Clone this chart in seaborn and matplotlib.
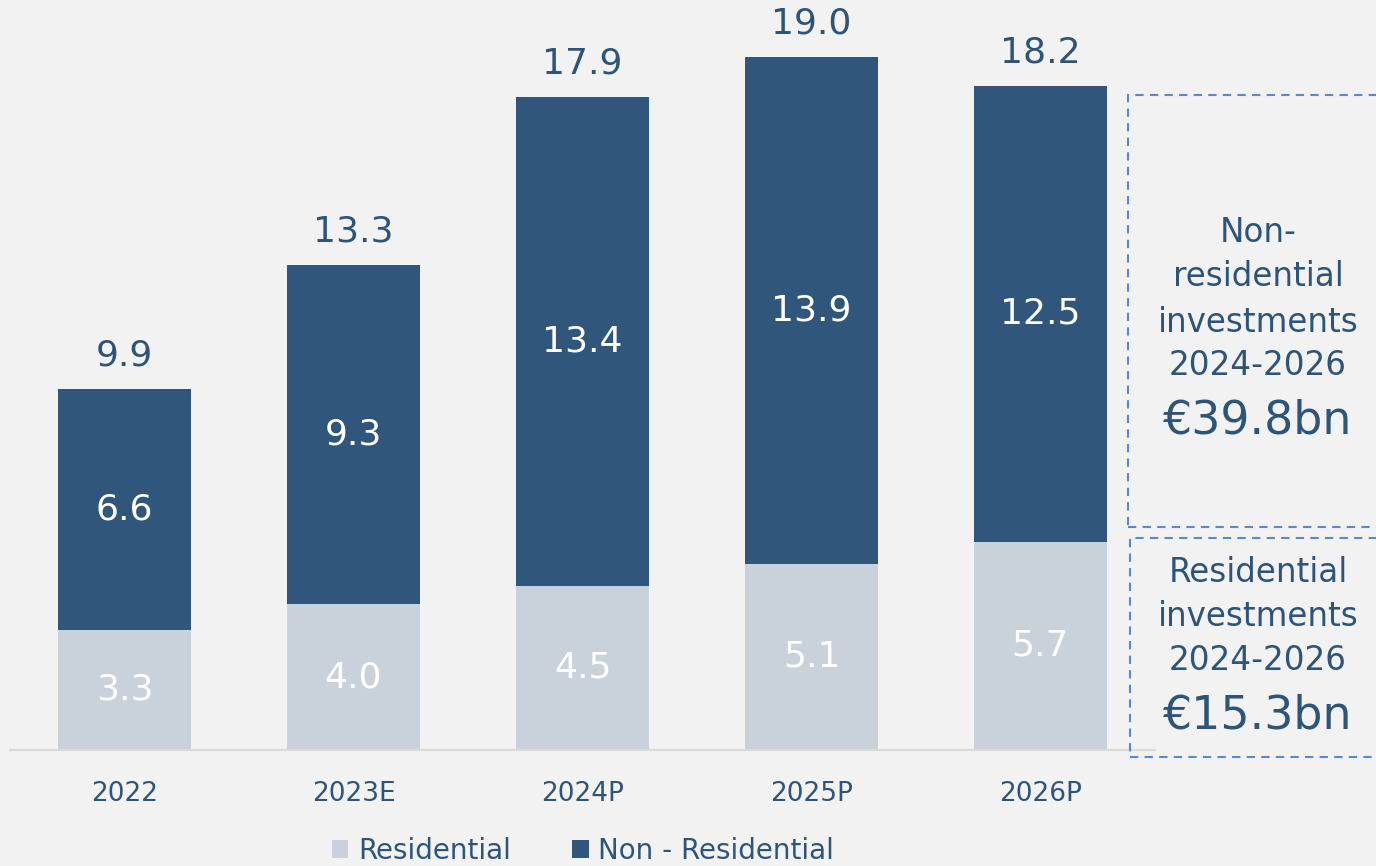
import matplotlib
matplotlib.use("Agg")
import matplotlib.pyplot as plt
from matplotlib.patches import Rectangle, Patch
import seaborn as sns
import pandas as pd

# Investment data (EUR bn)
years = ["2022", "2023E", "2024P", "2025P", "2026P"]
residential = [3.3, 4.0, 4.5, 5.1, 5.7]
non_residential = [6.6, 9.3, 13.4, 13.9, 12.5]
totals = [9.9, 13.3, 17.9, 19.0, 18.2]

DARK = "#31567b"
LIGHT = "#c9d1da"
TEXT = "#2d5479"
BG = "#f2f2f2"
BOX = "#5a87d2"

sns.set_theme(style="white")
plt.rcParams["font.family"] = ["DejaVu Sans"]

df = pd.DataFrame({"year": years, "res": residential,
                   "nonres": non_residential, "total": totals})

W, H = 1376, 866
fig = plt.figure(figsize=(W / 100, H / 100), dpi=100, facecolor=BG)
ax = fig.add_axes([10 / W, (H - 750) / H, 1145 / W, 750 / H])
ax.set_facecolor(BG)

# stacked bars: full total in dark, residential part in light on top of it
sns.barplot(data=df, x="year", y="total", color=DARK, width=0.585,
            saturation=1, ax=ax, linewidth=0)
sns.barplot(data=df, x="year", y="res", color=LIGHT, width=0.585,
            saturation=1, ax=ax, linewidth=0)

ax.set_xlim(-0.5, 4.5)
ax.set_ylim(0, 750 / 36.5)
ax.set_xlabel("")
ax.set_ylabel("")
ax.set_yticks([])
for s in ["top", "right", "left"]:
    ax.spines[s].set_visible(False)
ax.spines["bottom"].set_color("#d9d9d9")
ax.spines["bottom"].set_linewidth(1.5)
ax.tick_params(axis="x", length=0, pad=22, labelsize=19, labelcolor=TEXT)

for i in range(len(years)):
    ax.text(i, totals[i] + 0.45, f"{totals[i]:.1f}", ha="center", va="bottom",
            fontsize=26, color=TEXT)
    ax.text(i, residential[i] + non_residential[i] / 2, f"{non_residential[i]:.1f}",
            ha="center", va="center", fontsize=26, color="white")
    ax.text(i, residential[i] / 2, f"{residential[i]:.1f}",
            ha="center", va="center", fontsize=26, color="white")

# summary boxes on the right
def fx(px):
    return px / W

def fy(py):
    return 1 - py / H

for (x0, y0, x1, y1) in [(1128, 95, 1390, 527), (1130, 538, 1390, 757)]:
    fig.patches.append(Rectangle((fx(x0), fy(y1)), fx(x1 - x0), (y1 - y0) / H,
                                 transform=fig.transFigure, fill=False,
                                 edgecolor=BOX, linestyle=(0, (4, 3)),
                                 linewidth=1.5, clip_on=False))

box_lines = [
    ("Non-", 232, 23.5), ("residential", 277, 23.5), ("investments", 322, 23.5),
    ("2024-2026", 366, 23.5), ("€39.8bn", 421, 33),
    ("Residential", 573, 23.5), ("investments", 616, 23.5),
    ("2024-2026", 660, 23.5), ("€15.3bn", 716, 33),
]
for txt, py, size in box_lines:
    fig.text(fx(1258), fy(py), txt, ha="center", va="center",
             fontsize=size, color=TEXT)

handles = [Patch(facecolor=LIGHT, edgecolor="none", label="Residential"),
           Patch(facecolor=DARK, edgecolor="none", label="Non - Residential")]
fig.legend(handles=handles, loc="center", bbox_to_anchor=(fx(583), fy(851)),
           ncol=2, frameon=False, fontsize=20, labelcolor=TEXT,
           handlelength=0.6, handleheight=0.6, handletextpad=0.35,
           columnspacing=2.2)

fig.savefig("out.png", dpi=100, facecolor=BG)
